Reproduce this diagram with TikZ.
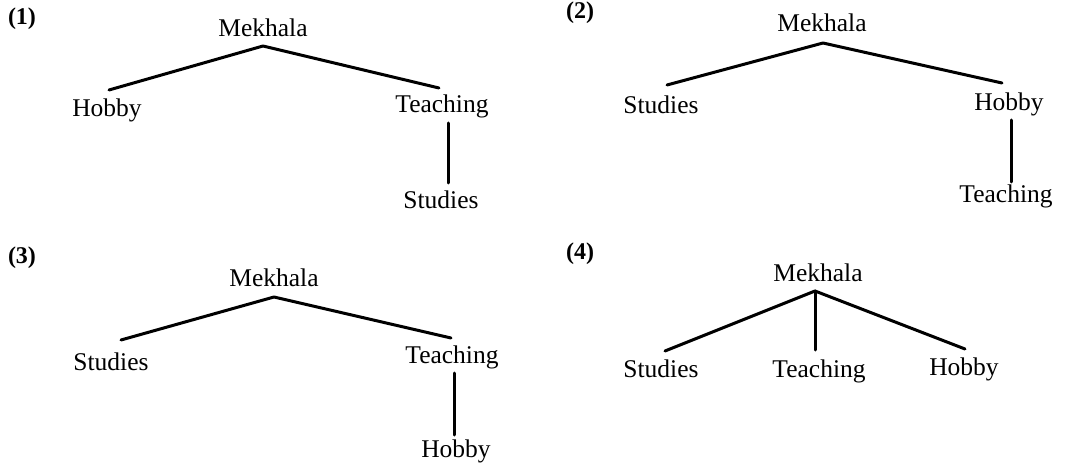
\documentclass[tikz,border=0pt]{standalone}
\usepackage{fontspec}
\setmainfont{Liberation Serif}
\begin{document}
\begin{tikzpicture}[x=1pt,y=-1pt,
  lbl/.style={anchor=base,inner sep=0pt,font=\fontsize{25.5}{30}\selectfont},
  num/.style={anchor=base,inner sep=0pt,font=\fontsize{24}{28}\selectfont\bfseries},
  edge/.style={line width=3pt,line cap=round,line join=round}]
\useasboundingbox (0,0) rectangle (1072,468);
% ---------- (1)
\node[num] (n1) at (22,25) {(1)};
\node[lbl] (m1) at (263,37) {Mekhala};
\node[lbl] (h1) at (107,117) {Hobby};
\node[lbl] (t1) at (442,113) {Teaching};
\node[lbl] (s1) at (441,208) {Studies};
\coordinate (a1) at (263,46);
\coordinate (l1) at (109,90);
\coordinate (r1) at (439,88);
\coordinate (v1t) at (448,123);
\coordinate (v1b) at (448,183);
\draw[edge] (l1) -- (a1) -- (r1);
\draw[edge] (v1t) -- (v1b);
% ---------- (2)
\node[num] (n2) at (580,19) {(2)};
\node[lbl] (m2) at (822,32) {Mekhala};
\node[lbl] (s2) at (661,114) {Studies};
\node[lbl] (h2) at (1009,111) {Hobby};
\node[lbl] (t2) at (1006,203) {Teaching};
\coordinate (a2) at (823,43);
\coordinate (l2) at (667,85);
\coordinate (r2) at (1002,83);
\coordinate (v2t) at (1011,120);
\coordinate (v2b) at (1011,182);
\draw[edge] (l2) -- (a2) -- (r2);
\draw[edge] (v2t) -- (v2b);
% ---------- (3)
\node[num] (n3) at (22,263) {(3)};
\node[lbl] (m3) at (274,287) {Mekhala};
\node[lbl] (s3) at (111,370) {Studies};
\node[lbl] (t3) at (452,363) {Teaching};
\node[lbl] (h3) at (456,457) {Hobby};
\coordinate (a3) at (274,297);
\coordinate (l3) at (121,340);
\coordinate (r3) at (451,338);
\coordinate (v3t) at (454,373);
\coordinate (v3b) at (454,435);
\draw[edge] (l3) -- (a3) -- (r3);
\draw[edge] (v3t) -- (v3b);
% ---------- (4)
\node[num] (n4) at (580,259) {(4)};
\node[lbl] (m4) at (818,281) {Mekhala};
\node[lbl] (s4) at (661,377) {Studies};
\node[lbl] (t4) at (819,377) {Teaching};
\node[lbl] (h4) at (964,375) {Hobby};
\coordinate (a4) at (815,291);
\coordinate (l4) at (665,351);
\coordinate (c4) at (815,350);
\coordinate (r4) at (965,349);
\draw[edge] (l4) -- (a4) -- (r4);
\draw[edge] (a4) -- (c4);
\end{tikzpicture}
\end{document}
